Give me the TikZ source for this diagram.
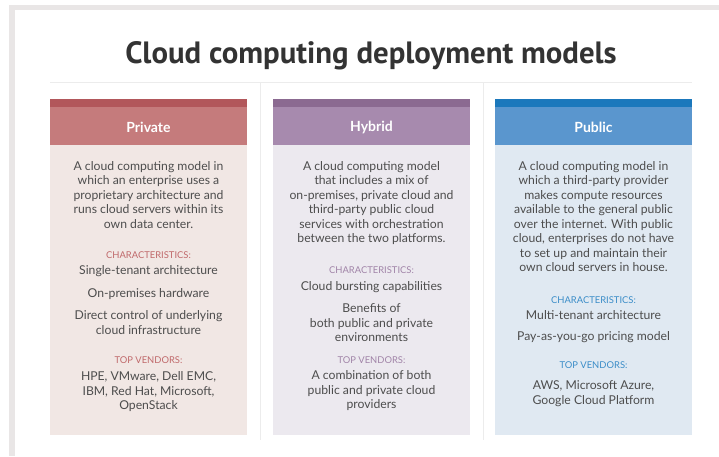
\documentclass[tikz,border=0pt]{standalone}
\usepackage{fontspec}
\setmainfont{Lato}
\newfontfamily\titlefont{PT Sans}
\usetikzlibrary{positioning}
\definecolor{framegray}{HTML}{E9E6E6}
\definecolor{rulegray}{HTML}{ECECEC}
\definecolor{txtgray}{HTML}{4D4D4D}
\definecolor{titlegray}{HTML}{333333}
\definecolor{strippri}{HTML}{B2575B}
\definecolor{headpri}{HTML}{C57B7C}
\definecolor{bodypri}{HTML}{F1E7E4}
\definecolor{lblpri}{HTML}{C0696B}
\definecolor{striphyb}{HTML}{8B6A91}
\definecolor{headhyb}{HTML}{A78AAE}
\definecolor{bodyhyb}{HTML}{ECE9EF}
\definecolor{lblhyb}{HTML}{A184A8}
\definecolor{strippub}{HTML}{1B78BC}
\definecolor{headpub}{HTML}{5A96CE}
\definecolor{bodypub}{HTML}{E0E9F2}
\definecolor{lblpub}{HTML}{3B8DC8}
\tikzset{
  desc/.style={font=\fontsize{12.2}{14.5}\selectfont,text=txtgray,align=center,anchor=north,inner sep=0pt},
  lbl/.style={font=\fontsize{9.4}{11}\selectfont,anchor=north,inner sep=0pt},
  head/.style={font=\fontsize{14}{16}\selectfont\bfseries,text=white,inner sep=0pt}
}

\begin{document}
\begin{tikzpicture}[x=1pt,y=-1pt]
\useasboundingbox (0,0) rectangle (719,456);
\fill[framegray] (9,5) rectangle (719,456);
\fill[white] (15,10) rectangle (719,456);
\node[font=\titlefont\fontsize{30.8}{34}\selectfont\bfseries,text=titlegray,anchor=base,inner sep=0pt] (title) at (371,63) {Cloud computing deployment models};
\draw[rulegray,line width=1pt] (50,82.5) -- (692,82.5) (260.5,82.5) -- (260.5,440) (483,82.5) -- (483,440);
\foreach \c/\x/\t in {pri/50/Private,hyb/273/Hybrid,pub/495/Public}{
  \fill[body\c] (\x,145) rectangle ++(197,290);
  \fill[head\c] (\x,107) rectangle ++(197,38);
  \fill[strip\c] (\x,99) rectangle ++(197,8);
  \node[head] (\c-t) at (\x+98.5,127) {\t};
}
\node[desc] (pri-d) at (148.5,161) {A cloud computing model in\\which an enterprise uses a\\proprietary architecture and\\runs cloud servers within its\\own data center.};
\node[lbl,text=lblpri] (pri-c) at (148.5,251.5) {CHARACTERISTICS:};
\node[desc] (pri-c1) at (148.5,265.5) {Single-tenant architecture};
\node[desc] (pri-c2) at (148.5,288.5) {On-premises hardware};
\node[desc] (pri-c3) at (148.5,310.5) {Direct control of underlying\\cloud infrastructure};
\node[lbl,text=lblpri] (pri-v) at (148.5,356.5) {TOP VENDORS:};
\node[desc] (pri-v1) at (148.5,371.5) {HPE, VMware, Dell EMC,\\IBM, Red Hat, Microsoft,\\OpenStack};
\node[desc] (hyb-d) at (371.5,161) {A cloud computing model\\that includes a mix of\\on-premises, private cloud and\\third-party public cloud\\services with orchestration\\between the two platforms.};
\node[lbl,text=lblhyb] (hyb-c) at (371.5,266) {CHARACTERISTICS:};
\node[desc] (hyb-c1) at (371.5,281.5) {Cloud bursting capabilities};
\node[desc] (hyb-c2) at (371.5,303.5) {Benefits of\\both public and private\\environments};
\node[lbl,text=lblhyb] (hyb-v) at (371.5,356.5) {TOP VENDORS:};
\node[desc] (hyb-v1) at (371.5,370.5) {A combination of both\\public and private cloud\\providers};
\node[desc] (pub-d) at (593.5,161) {A cloud computing model in\\which a third-party provider\\makes compute resources\\available to the general public\\over the internet. With public\\cloud, enterprises do not have\\to set up and maintain their\\own cloud servers in house.};
\node[lbl,text=lblpub] (pub-c) at (593.5,296.5) {CHARACTERISTICS:};
\node[desc] (pub-c1) at (593.5,310.5) {Multi-tenant architecture};
\node[desc] (pub-c2) at (593.5,331.5) {Pay-as-you-go pricing model};
\node[lbl,text=lblpub] (pub-v) at (593.5,361.5) {TOP VENDORS:};
\node[desc] (pub-v1) at (593.5,380.5) {AWS, Microsoft Azure,\\Google Cloud Platform};
\end{tikzpicture}
\end{document}
